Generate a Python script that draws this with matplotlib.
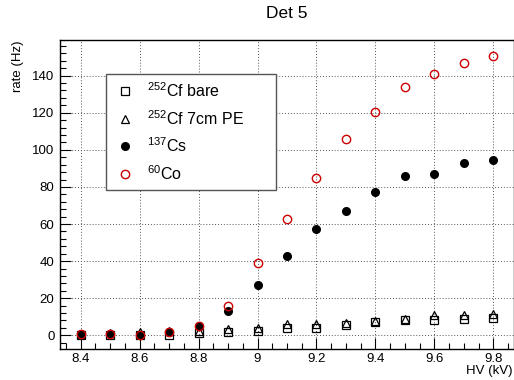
import matplotlib
matplotlib.use("Agg")
import matplotlib.pyplot as plt
from matplotlib.ticker import MultipleLocator

hv = [8.4, 8.5, 8.6, 8.7, 8.8, 8.9, 9.0, 9.1, 9.2, 9.3, 9.4, 9.5, 9.6, 9.7, 9.8]
cf_bare = [0, 0, 0, 0.3, 1, 1.5, 2.3, 4, 4, 5.5, 7, 8, 8.5, 8.8, 9.3]
cf_pe = [0.5, 1, 1.5, 2.5, 2.5, 3.3, 3.8, 6, 6, 6.5, 7.5, 9, 11, 11, 11.5]
cs137 = [0.5, 0.5, 0.3, 1.5, 5, 13, 27, 43, 57.5, 67, 77.5, 86, 87, 93, 94.5]
co60 = [0.5, 0.5, 0, 1.5, 5, 16, 39, 62.5, 85, 106, 120.5, 134, 141, 147, 150.5]

labels = [r"$^{252}$Cf bare", r"$^{252}$Cf 7cm PE", r"$^{137}$Cs", r"$^{60}$Co"]

plt.rcParams["font.family"] = ["Liberation Sans", "DejaVu Sans"]
plt.rcParams["mathtext.fontset"] = "custom"
plt.rcParams["mathtext.rm"] = "Liberation Sans"
plt.rcParams["mathtext.default"] = "regular"

fig = plt.figure(figsize=(5.14, 3.8), dpi=100)
ax = fig.add_axes([60 / 514, 1 - 349 / 380, 454 / 514, 309.5 / 380])

ms = 5.5
ax.plot(hv, cf_bare, ls="none", marker="s", ms=ms, mfc="none", mec="black", mew=0.9, label=labels[0])
ax.plot(hv, cf_pe, ls="none", marker="^", ms=ms, mfc="none", mec="black", mew=0.9, label=labels[1])
ax.plot(hv, cs137, ls="none", marker="o", ms=ms, mfc="black", mec="black", label=labels[2])
ax.plot(hv, co60, ls="none", marker="o", ms=ms + 0.5, mfc="none", mec="#cc0000", mew=1.0, label=labels[3])

ax.set_xlim(8.33, 9.87)
ax.set_ylim(-7.4, 159.5)
ax.xaxis.set_minor_locator(MultipleLocator(0.05))
ax.yaxis.set_major_locator(MultipleLocator(20))
ax.yaxis.set_minor_locator(MultipleLocator(4))
ax.set_xticks([8.4, 8.6, 8.8, 9.0, 9.2, 9.4, 9.6, 9.8])
ax.set_xticklabels(["8.4", "8.6", "8.8", "9", "9.2", "9.4", "9.6", "9.8"])
ax.tick_params(which="both", direction="in", top=False, right=False, labelsize=9.5, width=0.8)
ax.tick_params(which="major", length=8, pad=3)
ax.tick_params(axis="y", which="major", pad=4)
ax.tick_params(which="minor", length=4)
ax.grid(True, which="major", ls=(0, (1, 2)), color="#555555", lw=0.7)
for sp in ax.spines.values():
    sp.set_linewidth(1.0)

fig.text(287 / 514, 1 - 13 / 380, "Det 5", ha="center", va="center", fontsize=12.5)
fig.text(18 / 514, 1 - 40 / 380, "rate (Hz)", rotation=90, ha="center", va="top", fontsize=9.5)
fig.text(513 / 514, 1 - 371 / 380, "HV (kV)", ha="right", va="center", fontsize=9.5)

leg = ax.legend(loc="upper left", bbox_to_anchor=(0.101, 0.888, 0.375, 0.0), mode="expand",
                fontsize=11.5, frameon=True, fancybox=False, borderpad=0.45, labelspacing=0.55,
                handletextpad=0.6, handlelength=1.5, borderaxespad=0)
leg.get_frame().set_edgecolor("#555555")
leg.get_frame().set_linewidth(1.0)
leg.get_frame().set_alpha(1)

fig.savefig("out.png", dpi=100)
